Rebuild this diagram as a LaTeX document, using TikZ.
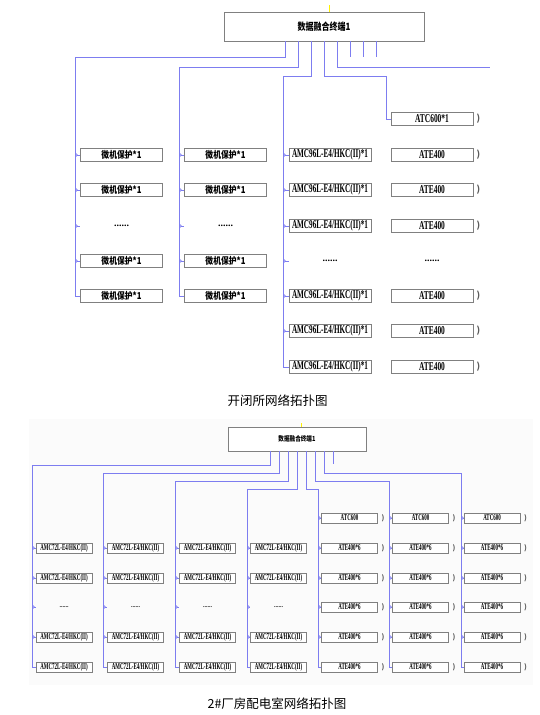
\documentclass[tikz,border=0pt]{standalone}
\usepackage{fontspec}
\setmainfont{Liberation Serif}
\newfontfamily\cjk{Noto Sans CJK SC}
\usetikzlibrary{arrows.meta,positioning}
\definecolor{linkblue}{RGB}{125,125,240}
\definecolor{boxgray}{RGB}{128,128,128}
\definecolor{markgray}{RGB}{90,90,90}
\definecolor{panelgray}{RGB}{251,251,251}
\newcommand{\nar}[2]{\scalebox{#1}[1]{#2}}

\begin{document}
\begin{tikzpicture}[
    x=1pt, y=-1pt,
    % connectors
    link/.style={draw=linkblue, line width=0.8pt},
    branch/.style={link, {Straight Barb[reversed,length=2pt,width=4pt]}-},
    % boxes
    hub/.style={draw=boxgray, line width=0.8pt, fill=white, inner sep=0pt},
    dev/.style={draw=boxgray, line width=0.7pt, fill=white, inner sep=0pt,
        minimum width=82pt, minimum height=13pt, font=\bfseries\fontsize{12}{12}\selectfont},
    devs/.style={dev, minimum width=56pt, minimum height=10pt, font=\bfseries\fontsize{9}{9}\selectfont},
    dots/.style={inner sep=0pt, minimum width=82pt, minimum height=13pt, font=\bfseries\fontsize{10}{10}\selectfont},
    dotss/.style={dots, minimum width=56pt, minimum height=10pt, font=\bfseries\fontsize{6}{6}\selectfont},
    endmark/.style={inner sep=0pt, text=markgray, font=\cjk\bfseries\fontsize{9}{9}\selectfont},
    caption/.style={font=\cjk\fontsize{12.5}{12.5}\selectfont}
]
    \useasboundingbox (0,0) rectangle (540,715);

    % ==========================
    % 开闭所
    % ==========================
    \node[hub, minimum width=200pt, minimum height=29pt, font=\cjk\bfseries\fontsize{10}{10}\selectfont]
        (hubA) at (324,26.5) {\nar{0.8}{数据融合终端1}};
    \draw[yellow] ([xshift=5pt]hubA.north) -- ++(0,-7);

    \coordinate (a1) at (75,57);
    \coordinate (a2) at (179,67);
    \coordinate (a3) at (283,76);
    \coordinate (a4) at (386,76);
    \coordinate (a5) at (490,67);

    % columns 1 and 2
    \foreach \c/\x in {1/121.5, 2/225.5} {
        \foreach \r/\y in {1/155, 2/190, 4/261, 5/296}
            \node[dev, font=\cjk\bfseries\fontsize{9.5}{9.5}\selectfont] (p\c\r) at (\x,\y) {\nar{0.82}{微机保护*1}};
        \node[dots] (p\c3) at (\x,226) {......};
    }

    % column 3
    \foreach \r/\y in {1/155, 2/190, 3/226, 5/296, 6/331, 7/367}
        \node[dev] (m\r) at (330,\y) {\nar{0.6}{AMC96L-E4/HKC(II)*1}};
    \node[dots] (m4) at (330,261) {......};

    % column 4
    \node[dev] (t0) at (432,119) {\nar{0.62}{ATC600*1}};
    \foreach \r/\y in {1/155, 2/190, 3/226, 5/296, 6/331, 7/367}
        \node[dev] (t\r) at (432,\y) {\nar{0.62}{ATE400}};
    \node[dots] (t4) at (432,261) {......};
    \foreach \r in {0,1,2,3,5,6,7}
        \node[endmark, right=3pt of t\r] (e\r) {)};

    % links
    \draw[link] ([xshift=-39pt]hubA.south) |- (a1) |- (p15.west);
    \draw[link] ([xshift=-26pt]hubA.south) |- (a2) |- (p25.west);
    \draw[link] ([xshift=-13pt]hubA.south) |- (a3) |- (m7.west);
    \draw[link] (hubA.south) |- (a4) |- (t0.west);
    \draw[link] ([xshift=13pt]hubA.south) |- (a5);
    \foreach \s in {26,39,52}
        \draw[link] ([xshift=\s pt]hubA.south) -- ++(0,16);
    \foreach \r in {1,...,4} {
        \draw[branch] (p1\r.west -| a1) -- (p1\r.west);
        \draw[branch] (p2\r.west -| a2) -- (p2\r.west);
    }
    \foreach \r in {1,...,6}
        \draw[branch] (m\r.west -| a3) -- (m\r.west);

    \node[caption] (capA) at (277.5,401) {开闭所网络拓扑图};

    % ==========================
    % 2#厂房配电室
    % ==========================
    \fill[panelgray] (29,419) rectangle (533,685);
    \node[hub, minimum width=138pt, minimum height=24pt, font=\cjk\bfseries\fontsize{7}{7}\selectfont]
        (hubB) at (297,439) {\nar{0.8}{数据融合终端1}};
    \draw[yellow] ([xshift=4pt]hubB.north) -- ++(0,-4);

    \coordinate (b1) at (32,465);
    \coordinate (b2) at (103,473);
    \coordinate (b3) at (175,481);
    \coordinate (b4) at (247,489);
    \coordinate (b5) at (318,489);
    \coordinate (b6) at (389,481);
    \coordinate (b7) at (461,473);

    % AMC72L columns
    \foreach \c/\x in {1/64, 2/135.5, 3/207.5, 4/278.5} {
        \foreach \r/\y in {1/548, 2/578, 4/637, 5/667}
            \node[devs] (q\c\r) at (\x,\y) {\nar{0.55}{AMC72L-E4/HKC(II)}};
        \node[dotss] (q\c3) at (\x,607) {......};
    }

    % ATE400 columns
    \foreach \c/\x in {5/349.5, 6/420.5, 7/492} {
        \node[devs] (q\c0) at (\x,518) {\nar{0.55}{ATC600}};
        \foreach \r/\y in {1/548, 2/578, 3/607, 4/637, 5/667}
            \node[devs] (q\c\r) at (\x,\y) {\nar{0.55}{ATE400*6}};
        \foreach \r in {0,...,5}
            \node[endmark, font=\cjk\bfseries\fontsize{7}{7}\selectfont, right=3.5pt of q\c\r] (f\c\r) {)};
    }

    % links
    \foreach \c/\s in {1/-27, 2/-18, 3/-9, 4/0} {
        \draw[link] ([xshift=\s pt]hubB.south) |- (b\c) |- (q\c5.west);
        \foreach \r in {1,...,4}
            \draw[branch] (q\c\r.west -| b\c) -- (q\c\r.west);
    }
    \foreach \c/\s in {5/9, 6/18, 7/27} {
        \draw[link] ([xshift=\s pt]hubB.south) |- (b\c) |- (q\c5.west);
        \foreach \r in {0,...,4}
            \draw[branch] (q\c\r.west -| b\c) -- (q\c\r.west);
    }
    \draw[link] ([xshift=36pt]hubB.south) -- ++(0,13);

    \node[caption] (capB) at (277,704) {2\#厂房配电室网络拓扑图};

\end{tikzpicture}
\end{document}
